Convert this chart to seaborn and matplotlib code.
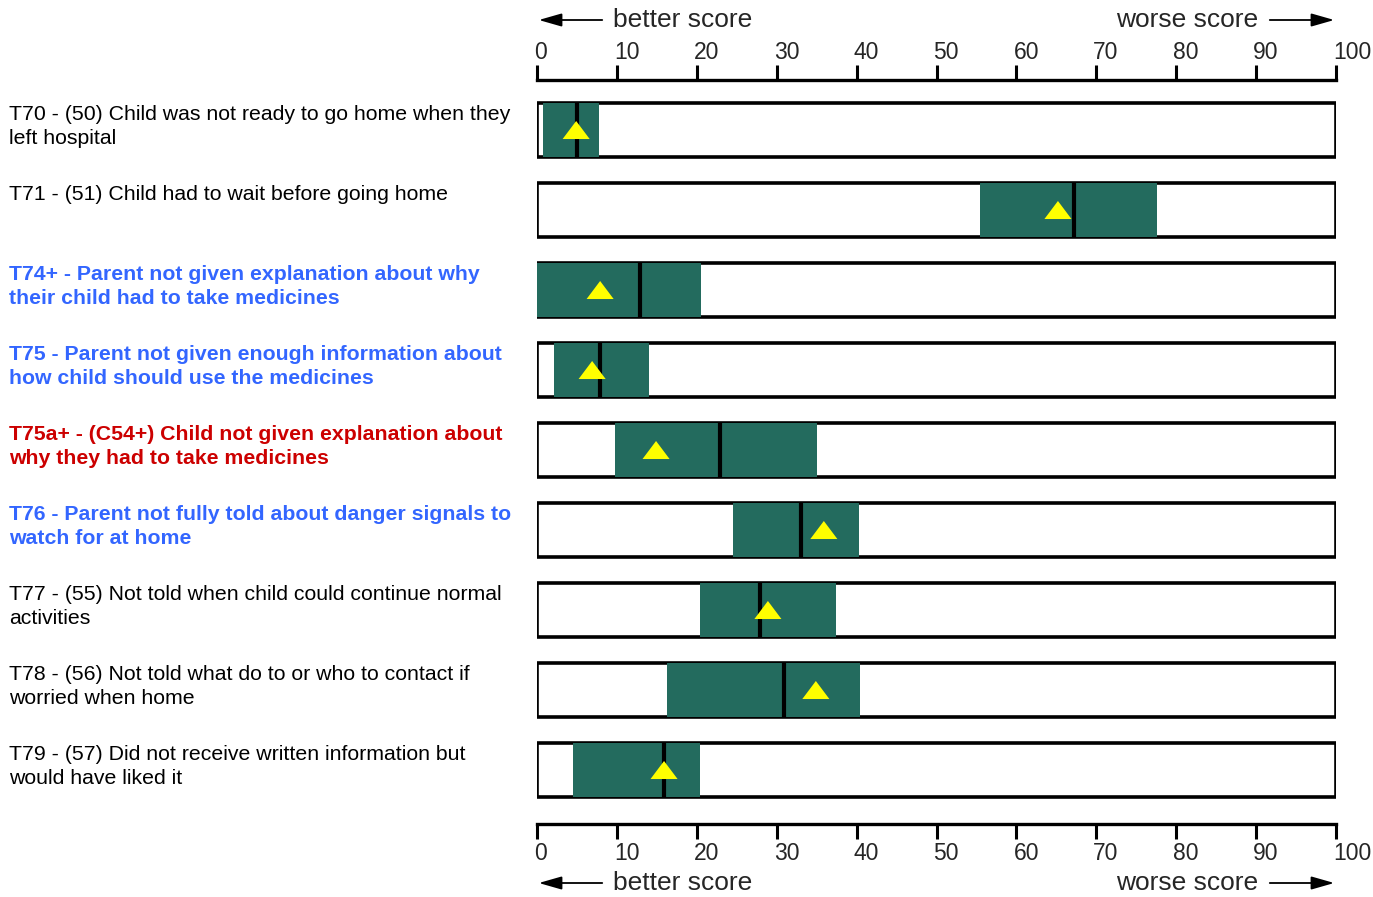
import numpy as np
import matplotlib
matplotlib.use("Agg")
import matplotlib.pyplot as plt
import seaborn as sns

# ===========================
# DATA
# ===========================
labels = [
    "T70 - (50) Child was not ready to go home when they\nleft hospital",
    "T71 - (51) Child had to wait before going home",
    "T74+ - Parent not given explanation about why\ntheir child had to take medicines",
    "T75 - Parent not given enough information about\nhow child should use the medicines",
    "T75a+ - (C54+) Child not given explanation about\nwhy they had to take medicines",
    "T76 - Parent not fully told about danger signals to\nwatch for at home",
    "T77 - (55) Not told when child could continue normal\nactivities",
    "T78 - (56) Not told what do to or who to contact if\nworried when home",
    "T79 - (57) Did not receive written information but\nwould have liked it",
]
label_kind = ["normal", "normal", "blue", "blue", "red", "blue", "normal", "normal", "normal"]
range_low = [0.8, 55.4, 0.0, 2.1, 9.8, 24.5, 20.4, 16.3, 4.5]
range_high = [7.7, 77.6, 20.5, 14.0, 35.0, 40.3, 37.4, 40.4, 20.4]
median = [5.0, 67.2, 12.9, 7.9, 22.9, 33.0, 27.9, 30.9, 15.9]
trust_score = [4.9, 65.2, 7.9, 6.9, 14.9, 35.9, 28.9, 34.9, 15.9]
ticks = list(range(0, 101, 10))

# ===========================
# STYLE
# ===========================
sns.set_theme(style="white")
plt.rcParams["font.family"] = ["Liberation Sans", "DejaVu Sans"]

GREEN = "#236b5e"
YELLOW = "#ffff00"
kind_style = {
    "normal": ("black", "normal"),
    "blue": ("#3366ff", "bold"),
    "red": ("#cc0000", "bold"),
}

W, H = 1373, 897
fig = plt.figure(figsize=(W / 100, H / 100), dpi=100)
# axes from x=537..1336 px, y=80..824 px
ax = fig.add_axes([537 / W, 1 - 824 / H, (1336 - 537) / W, (824 - 80) / H])

rows = np.arange(len(labels))
half = 27 / 80

# outline boxes (0-100)
ax.barh(rows, [100] * len(rows), left=0, height=2 * half,
        color="white", edgecolor="black", linewidth=2.6, zorder=1)

# green ranges
ax.barh(rows, np.array(range_high) - np.array(range_low), left=range_low,
        height=2 * half + 0.01, color=GREEN, edgecolor="none", zorder=2)

# black median lines
ax.vlines(median, rows - half, rows + half, color="black", linewidth=3, zorder=3)

# yellow triangles
tri = [(-1.5, -1), (1.5, -1), (0, 1), (-1.5, -1)]
sns.scatterplot(x=trust_score, y=rows, marker=tri, s=380, color=YELLOW,
                edgecolor="none", linewidth=0, zorder=4, ax=ax, legend=False)

ax.set_xlim(0, 100)
ax.set_ylim(8.675, -0.625)
ax.set_yticks([])
ax.set_xticks(ticks)
ax.set_xticklabels([str(t) for t in ticks], fontsize=16.5)
ax.tick_params(axis="x", which="both", direction="out", length=11, width=2.2,
               color="black", top=True, bottom=True, labeltop=True,
               labelbottom=True, pad=2)
for side in ["left", "right"]:
    ax.spines[side].set_visible(False)
for side in ["top", "bottom"]:
    ax.spines[side].set_linewidth(2.4)
    ax.spines[side].set_color("black")
ax.grid(False)

# tick labels start at the tick, like the original
off_bottom = matplotlib.transforms.ScaledTranslation(-3 / 100, 0, fig.dpi_scale_trans)
off_top = matplotlib.transforms.ScaledTranslation(-3 / 100, -2 / 100, fig.dpi_scale_trans)
for t in ax.xaxis.get_major_ticks():
    t.label1.set_horizontalalignment("left")
    t.label2.set_horizontalalignment("left")
    t.label1.set_transform(t.label1.get_transform() + off_bottom)
    t.label2.set_transform(t.label2.get_transform() + off_top)

# row labels
for i, (lab, kind) in enumerate(zip(labels, label_kind)):
    col, wt = kind_style[kind]
    fig.text(9 / W, 1 - (105 + 80 * i) / H, lab, ha="left", va="top",
             fontsize=15.3, color=col, fontweight=wt, linespacing=1.32)

# direction hints
for y_px in (20, 883):
    yf = 1 - y_px / H
    fig.text(613 / W, yf, "better score", ha="left", va="center", fontsize=19)
    fig.text(1258 / W, yf, "worse score", ha="right", va="center", fontsize=19)
    fig.add_artist(matplotlib.patches.FancyArrowPatch(
        (605 / W, yf), (536 / W, yf), transform=fig.transFigure,
        arrowstyle="-|>,head_length=14,head_width=4", color="black", lw=1.3,
        mutation_scale=1))
    fig.add_artist(matplotlib.patches.FancyArrowPatch(
        (1267 / W, yf), (1337 / W, yf), transform=fig.transFigure,
        arrowstyle="-|>,head_length=14,head_width=4", color="black", lw=1.3,
        mutation_scale=1))

fig.savefig("out.png", dpi=100, facecolor="white")
